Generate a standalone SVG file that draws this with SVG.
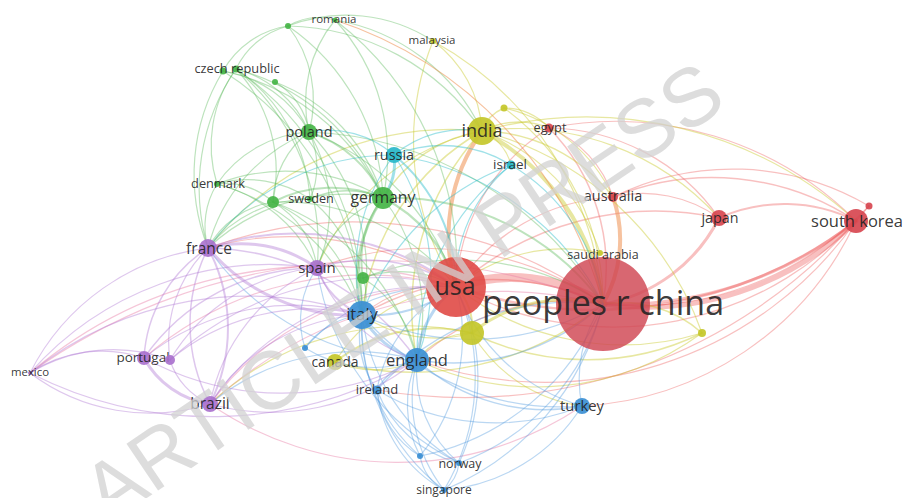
<svg xmlns="http://www.w3.org/2000/svg" width="907" height="498" viewBox="0 0 907 498">
<style>
.r{stroke:#ec5a5a;stroke-opacity:.38}
.o{stroke:#ef9050;stroke-opacity:.55}
.y{stroke:#c9c92e;stroke-opacity:.45}
.g{stroke:#5ab85a;stroke-opacity:.4}
.b{stroke:#4a96dc;stroke-opacity:.38}
.p{stroke:#b07ad4;stroke-opacity:.42}
.c{stroke:#2cbccc;stroke-opacity:.45}
.k{stroke:#e880a8;stroke-opacity:.45}
.nr{fill:#d6434d;fill-opacity:.9}
.ny{fill:#c4c72a;fill-opacity:.92}
.ng{fill:#45b446;fill-opacity:.92}
.nb{fill:#3b8fd4;fill-opacity:.92}
.np{fill:#a86fcd;fill-opacity:.9}
.nc{fill:#27b7c9;fill-opacity:.92}
text.l{font-family:"Open Sans","Liberation Sans",sans-serif;fill:#222;fill-opacity:.9;text-anchor:middle}
.wm{font-family:"Liberation Sans","Open Sans",sans-serif;fill:#d2d2d2;fill-opacity:.75;text-anchor:middle}
</style>
<rect width="907" height="498" fill="#fff"/>
<g id="connectors" fill="none" stroke-width="1.2" stroke-linecap="round">
<path class="r" stroke-width="9" d="M456 287A170 170 0 0 1 603 304"/>
<path class="r" stroke-width="5" d="M603 304A300 300 0 0 0 856 221"/>
<path class="r" stroke-width="3" d="M603 304A380 380 0 0 0 856 221"/>
<path class="r" stroke-width="3" d="M603 304A160 160 0 0 0 719 218"/>
<path class="r" stroke-width="2.5" d="M456 287A430 430 0 0 0 856 221"/>
<path class="r" stroke-width="1.5" d="M456 287A300 300 0 0 1 719 218"/>
<path class="o" stroke-width="4" d="M613 197A130 130 0 0 1 603 304"/>
<path class="r" stroke-width="1.5" d="M613 197A260 260 0 0 1 856 221"/>
<path class="r" d="M613 197A130 130 0 0 1 719 218"/>
<path class="r" stroke-width="1.5" d="M549 128A200 200 0 0 1 603 304"/>
<path class="r" d="M549 128A340 340 0 0 1 856 221"/>
<path class="r" d="M549 128A210 210 0 0 1 719 218"/>
<path class="r" d="M549 128A110 110 0 0 1 613 197"/>
<path class="r" d="M456 287A200 200 0 0 1 549 128"/>
<path class="r" stroke-width="2" d="M719 218A160 160 0 0 1 856 221"/>
<path class="r" d="M603 304A320 320 0 0 0 869 206"/>
<path class="r" d="M613 197A270 270 0 0 1 869 206"/>
<path class="r" d="M456 287A200 200 0 0 1 613 197"/>
<path class="r" d="M417 360A220 220 0 0 1 603 304"/>
<path class="r" stroke-width="1.5" d="M362 315A260 260 0 0 1 603 304"/>
<path class="r" d="M317 268A310 310 0 0 1 603 304"/>
<path class="r" d="M208 248A420 420 0 0 1 603 304"/>
<path class="k" d="M210 404A430 430 0 0 1 603 304"/>
<path class="k" stroke-width="1.4" d="M30 373A450 450 0 0 1 456 287"/>
<path class="k" d="M30 373A600 600 0 0 1 603 304"/>
<path class="r" d="M362 315A120 120 0 0 1 456 287"/>
<path class="r" d="M208 248A300 300 0 0 1 456 287"/>
<path class="k" d="M210 404A290 290 0 0 1 456 287"/>
<path class="k" d="M144 358A340 340 0 0 1 456 287"/>
<path class="r" d="M417 360A380 380 0 0 0 856 221"/>
<path class="r" d="M377 390A520 520 0 0 0 856 221"/>
<path class="r" d="M582 406A320 320 0 0 0 856 221"/>
<path class="r" d="M456 287A330 330 0 0 0 869 206"/>
<path class="k" d="M210 404A330 330 0 0 0 582 406"/>
<path class="o" stroke-width="4" d="M456 287A180 180 0 0 1 482 131"/>
<path class="y" stroke-width="4" d="M482 131A230 230 0 0 1 603 304"/>
<path class="y" stroke-width="3" d="M472 333A150 150 0 0 1 603 304"/>
<path class="y" stroke-width="2" d="M456 287A60 60 0 0 1 472 333"/>
<path class="y" stroke-width="1.5" d="M603 304A120 120 0 0 1 702 333"/>
<path class="y" d="M456 287A270 270 0 0 0 702 333"/>
<path class="y" d="M482 131A320 320 0 0 1 702 333"/>
<path class="y" stroke-width="1.4" d="M472 333A260 260 0 0 0 702 333"/>
<path class="y" d="M417 360A280 280 0 0 0 702 333"/>
<path class="y" d="M335 362A160 160 0 0 1 456 287"/>
<path class="y" stroke-width="1.4" d="M335 362A300 300 0 0 0 603 304"/>
<path class="y" d="M335 362A100 100 0 0 0 417 360"/>
<path class="y" stroke-width="2" d="M335 362A160 160 0 0 1 472 333"/>
<path class="y" d="M456 287A170 170 0 0 1 600 253"/>
<path class="y" d="M482 131A190 190 0 0 1 600 253"/>
<path class="y" d="M433 41A120 120 0 0 1 482 131"/>
<path class="y" d="M433 41A330 330 0 0 1 603 304"/>
<path class="y" d="M433 41A270 270 0 0 0 456 287"/>
<path class="y" stroke-width="1.5" d="M504 108A40 40 0 0 0 482 131"/>
<path class="y" d="M504 108A60 60 0 0 1 549 128"/>
<path class="y" d="M504 108A240 240 0 0 1 603 304"/>
<path class="y" d="M504 108A160 160 0 0 1 613 197"/>
<path class="y" stroke-width="1.5" d="M482 131A80 80 0 0 1 549 128"/>
<path class="y" stroke-width="1.5" d="M482 131A170 170 0 0 1 613 197"/>
<path class="y" d="M482 131A400 400 0 0 1 856 221"/>
<path class="y" d="M482 131A270 270 0 0 1 719 218"/>
<path class="y" stroke-width="1.5" d="M383 198A140 140 0 0 1 482 131"/>
<path class="y" stroke-width="1.5" d="M362 315A240 240 0 0 1 482 131"/>
<path class="y" stroke-width="1.5" d="M417 360A260 260 0 0 1 482 131"/>
<path class="y" d="M482 131A50 50 0 0 1 511 165"/>
<path class="y" d="M317 268A230 230 0 0 1 482 131"/>
<path class="y" d="M208 248A310 310 0 0 1 482 131"/>
<path class="y" d="M362 315A130 130 0 0 0 472 333"/>
<path class="y" d="M417 360A70 70 0 0 1 472 333"/>
<path class="y" d="M472 333A150 150 0 0 0 582 406"/>
<path class="y" d="M210 404A290 290 0 0 1 472 333"/>
<path class="g" stroke-width="3" d="M383 198A140 140 0 0 0 362 315"/>
<path class="g" stroke-width="2" d="M383 198A100 100 0 0 0 363 278"/>
<path class="g" stroke-width="2.5" d="M383 198A140 140 0 0 1 456 287"/>
<path class="g" stroke-width="2" d="M383 198A260 260 0 0 1 603 304"/>
<path class="g" d="M383 198A190 190 0 0 1 417 360"/>
<path class="g" d="M383 198A110 110 0 0 0 317 268"/>
<path class="g" d="M383 198A200 200 0 0 0 208 248"/>
<path class="g" stroke-width="2" d="M309 132A120 120 0 0 1 383 198"/>
<path class="g" stroke-width="1.5" d="M310 199A90 90 0 0 1 383 198"/>
<path class="g" stroke-width="2" d="M273 202A130 130 0 0 1 383 198"/>
<path class="g" d="M217 184A190 190 0 0 1 383 198"/>
<path class="g" d="M236 69A220 220 0 0 1 383 198"/>
<path class="g" d="M223 71A230 230 0 0 1 383 198"/>
<path class="g" d="M335 20A200 200 0 0 1 383 198"/>
<path class="g" d="M288 26A220 220 0 0 1 383 198"/>
<path class="g" d="M275 82A180 180 0 0 1 383 198"/>
<path class="g" d="M236 69A110 110 0 0 1 309 132"/>
<path class="g" d="M223 71A120 120 0 0 1 309 132"/>
<path class="g" d="M275 82A70 70 0 0 1 309 132"/>
<path class="g" d="M288 26A120 120 0 0 1 309 132"/>
<path class="g" d="M335 20A130 130 0 0 0 309 132"/>
<path class="g" d="M309 132A80 80 0 0 1 310 199"/>
<path class="g" d="M309 132A90 90 0 0 0 273 202"/>
<path class="g" d="M309 132A120 120 0 0 0 217 184"/>
<path class="g" d="M309 132A170 170 0 0 0 208 248"/>
<path class="g" d="M309 132A200 200 0 0 1 362 315"/>
<path class="g" d="M309 132A150 150 0 0 1 317 268"/>
<path class="g" d="M309 132A240 240 0 0 1 456 287"/>
<path class="g" d="M309 132A360 360 0 0 1 603 304"/>
<path class="g" d="M236 69A80 80 0 0 1 288 26"/>
<path class="g" d="M223 71A90 90 0 0 1 288 26"/>
<path class="g" d="M288 26A60 60 0 0 1 335 20"/>
<path class="g" d="M288 26A160 160 0 0 1 433 41"/>
<path class="g" d="M288 26A240 240 0 0 1 482 131"/>
<path class="g" d="M335 20A200 200 0 0 1 482 131"/>
<path class="g" d="M335 20A310 310 0 0 1 456 287"/>
<path class="o" stroke-opacity=".35" d="M335 20A410 410 0 0 1 603 304"/>
<path class="g" d="M223 71A200 200 0 0 0 208 248"/>
<path class="g" d="M236 69A210 210 0 0 0 208 248"/>
<path class="g" d="M236 69A130 130 0 0 0 217 184"/>
<path class="g" d="M236 69A150 150 0 0 1 273 202"/>
<path class="g" d="M236 69A170 170 0 0 1 310 199"/>
<path class="g" d="M236 69A290 290 0 0 1 362 315"/>
<path class="g" d="M236 69A230 230 0 0 1 317 268"/>
<path class="g" d="M223 71A300 300 0 0 1 362 315"/>
<path class="g" d="M217 184A70 70 0 0 1 273 202"/>
<path class="g" d="M217 184A80 80 0 0 0 208 248"/>
<path class="g" d="M217 184A110 110 0 0 1 310 199"/>
<path class="g" d="M217 184A150 150 0 0 1 317 268"/>
<path class="g" d="M217 184A220 220 0 0 1 362 315"/>
<path class="g" d="M273 202A90 90 0 0 0 208 248"/>
<path class="g" d="M273 202A90 90 0 0 1 317 268"/>
<path class="g" d="M273 202A160 160 0 0 1 362 315"/>
<path class="g" d="M273 202A230 230 0 0 1 417 360"/>
<path class="g" d="M273 202A220 220 0 0 1 456 287"/>
<path class="g" d="M310 199A130 130 0 0 0 208 248"/>
<path class="g" d="M310 199A140 140 0 0 1 362 315"/>
<path class="g" d="M363 278A110 110 0 0 1 456 287"/>
<path class="g" d="M363 278A50 50 0 0 1 362 315"/>
<path class="g" d="M363 278A260 260 0 0 1 603 304"/>
<path class="g" d="M363 278A120 120 0 0 1 417 360"/>
<path class="c" stroke-width="3" d="M394 155A60 60 0 0 1 383 198"/>
<path class="c" stroke-width="2" d="M394 155A170 170 0 0 1 456 287"/>
<path class="c" d="M394 155A280 280 0 0 1 603 304"/>
<path class="c" d="M394 155A110 110 0 0 1 482 131"/>
<path class="c" d="M394 155A190 190 0 0 0 362 315"/>
<path class="c" d="M394 155A230 230 0 0 1 417 360"/>
<path class="c" d="M309 132A100 100 0 0 1 394 155"/>
<path class="c" stroke-width="1.4" d="M394 155A130 130 0 0 1 511 165"/>
<path class="c" d="M456 287A150 150 0 0 1 511 165"/>
<path class="c" d="M511 165A190 190 0 0 1 603 304"/>
<path class="c" d="M417 360A240 240 0 0 1 511 165"/>
<path class="c" d="M362 315A250 250 0 0 1 511 165"/>
<path class="c" stroke-opacity=".3" d="M208 248A230 230 0 0 1 394 155"/>
<path class="b" stroke-width="3" d="M362 315A90 90 0 0 0 417 360"/>
<path class="b" stroke-width="3" d="M417 360A100 100 0 0 1 456 287"/>
<path class="b" stroke-width="2" d="M362 315A140 140 0 0 0 456 287"/>
<path class="b" stroke-width="1.5" d="M417 360A220 220 0 0 0 603 304"/>
<path class="b" d="M362 315A260 260 0 0 0 603 304"/>
<path class="b" stroke-width="1.5" d="M417 360A190 190 0 0 0 582 406"/>
<path class="b" d="M362 315A260 260 0 0 0 582 406"/>
<path class="b" d="M456 287A190 190 0 0 0 582 406"/>
<path class="b" d="M377 390A230 230 0 0 0 582 406"/>
<path class="b" d="M582 406A130 130 0 0 1 603 304"/>
<path class="b" stroke-width="1.4" d="M377 390A60 60 0 0 1 417 360"/>
<path class="b" stroke-width="1.4" d="M362 315A90 90 0 0 0 377 390"/>
<path class="b" d="M377 390A140 140 0 0 1 456 287"/>
<path class="b" d="M377 390A260 260 0 0 1 603 304"/>
<path class="b" d="M420 456A90 90 0 0 1 377 390"/>
<path class="b" d="M420 456A110 110 0 0 1 417 360"/>
<path class="b" d="M420 456A190 190 0 0 0 456 287"/>
<path class="b" d="M420 456A170 170 0 0 1 362 315"/>
<path class="b" d="M420 456A250 250 0 0 0 603 304"/>
<path class="b" d="M459 463A120 120 0 0 1 417 360"/>
<path class="b" d="M459 463A200 200 0 0 1 362 315"/>
<path class="b" d="M459 463A200 200 0 0 0 456 287"/>
<path class="b" d="M459 463A230 230 0 0 0 603 304"/>
<path class="b" d="M459 463A120 120 0 0 1 377 390"/>
<path class="b" d="M459 463A260 260 0 0 1 317 268"/>
<path class="b" d="M444 490A150 150 0 0 1 417 360"/>
<path class="b" d="M444 490A130 130 0 0 1 377 390"/>
<path class="b" d="M444 490A220 220 0 0 0 456 287"/>
<path class="b" d="M444 490A270 270 0 0 0 603 304"/>
<path class="b" d="M444 490A50 50 0 0 1 420 456"/>
<path class="b" d="M444 490A40 40 0 0 0 459 463"/>
<path class="b" d="M444 490A210 210 0 0 1 362 315"/>
<path class="b" d="M444 490A180 180 0 0 0 582 406"/>
<path class="b" d="M305 348A80 80 0 0 1 362 315"/>
<path class="b" d="M305 348A90 90 0 0 1 317 268"/>
<path class="b" d="M305 348A130 130 0 0 0 417 360"/>
<path class="b" d="M305 348A180 180 0 0 1 456 287"/>
<path class="b" d="M208 248A260 260 0 0 0 417 360"/>
<path class="b" d="M210 404A230 230 0 0 1 417 360"/>
<path class="p" stroke-width="3" d="M208 248A130 130 0 0 1 317 268"/>
<path class="p" stroke-width="3" d="M208 248A190 190 0 0 0 362 315"/>
<path class="p" stroke-width="2" d="M208 248A270 270 0 0 1 456 287"/>
<path class="p" stroke-width="1.5" d="M208 248A260 260 0 0 1 417 360"/>
<path class="p" stroke-width="1.5" d="M144 358A140 140 0 0 1 208 248"/>
<path class="p" stroke-width="2" d="M208 248A170 170 0 0 1 210 404"/>
<path class="p" stroke-width="1.5" d="M210 404A170 170 0 0 1 208 248"/>
<path class="p" d="M170 360A130 130 0 0 1 208 248"/>
<path class="p" stroke-width="1.5" d="M144 358A210 210 0 0 1 317 268"/>
<path class="p" d="M210 404A190 190 0 0 1 317 268"/>
<path class="p" stroke-width="3" d="M144 358A90 90 0 0 0 210 404"/>
<path class="p" d="M144 358A240 240 0 0 1 362 315"/>
<path class="p" d="M144 358A290 290 0 0 0 417 360"/>
<path class="p" d="M170 360A190 190 0 0 1 317 268"/>
<path class="p" d="M170 360A220 220 0 0 1 362 315"/>
<path class="p" d="M170 360A70 70 0 0 0 210 404"/>
<path class="p" d="M170 360A310 310 0 0 1 456 287"/>
<path class="p" d="M210 404A190 190 0 0 1 362 315"/>
<path class="p" d="M210 404A230 230 0 0 0 417 360"/>
<path class="p" d="M210 404A270 270 0 0 1 456 287"/>
<path class="p" stroke-width="2" d="M317 268A80 80 0 0 0 362 315"/>
<path class="p" stroke-width="1.5" d="M317 268A160 160 0 0 1 456 287"/>
<path class="p" d="M317 268A160 160 0 0 0 417 360"/>
<path class="p" d="M30 373A130 130 0 0 1 144 358"/>
<path class="p" d="M30 373A160 160 0 0 1 170 360"/>
<path class="p" d="M30 373A200 200 0 0 0 210 404"/>
<path class="p" d="M30 373A230 230 0 0 1 208 248"/>
<path class="p" d="M30 373A320 320 0 0 1 317 268"/>
<path class="p" d="M30 373A350 350 0 0 1 362 315"/>
<path class="p" d="M30 373A400 400 0 0 0 417 360"/>
</g>
<g id="n-china"><circle class="nr" cx="603" cy="304" r="47" style="fill:#d04652;fill-opacity:.82"/></g>
<g id="n-usa"><circle class="nr" cx="456" cy="287" r="30" style="fill:#e04a46"/><text class="l" x="455" y="295" font-size="25">usa</text></g>
<g id="n-yellow1"><circle class="ny" cx="472" cy="333" r="12"/></g>
<g id="n-china-label"><text class="l" x="603" y="315" font-size="34">peoples r china</text></g>
<g id="n-india"><circle class="ny" cx="482" cy="131" r="14"/><text class="l" x="482" y="137" font-size="18">india</text></g>
<g id="n-italy"><circle class="nb" cx="362" cy="315" r="14"/><text class="l" x="362" y="320" font-size="16.5">italy</text></g>
<g id="n-england"><circle class="nb" cx="417" cy="360" r="12"/><text class="l" x="417" y="366" font-size="16.5">england</text></g>
<g id="n-south-korea"><circle class="nr" cx="856" cy="221" r="12"/><text class="l" x="857" y="227" font-size="16.5">south korea</text></g>
<g id="n-germany"><circle class="ng" cx="383" cy="198" r="11"/><text class="l" x="383" y="203" font-size="15.8">germany</text></g>
<g id="n-france"><circle class="np" cx="208" cy="248" r="9"/><text class="l" x="209" y="254" font-size="15.5">france</text></g>
<g id="n-spain"><circle class="np" cx="317" cy="268" r="8"/><text class="l" x="317" y="273" font-size="15">spain</text></g>
<g id="n-poland"><circle class="ng" cx="309" cy="132" r="8"/><text class="l" x="309" y="137" font-size="14.5">poland</text></g>
<g id="n-russia"><circle class="nc" cx="394" cy="155" r="8"/><text class="l" x="394" y="160" font-size="14.4">russia</text></g>
<g id="n-japan"><circle class="nr" cx="719" cy="218" r="8"/><text class="l" x="720" y="223" font-size="14.3">japan</text></g>
<g id="n-turkey"><circle class="nb" cx="582" cy="406" r="8"/><text class="l" x="582" y="411" font-size="14.8">turkey</text></g>
<g id="n-brazil"><circle class="np" cx="210" cy="404" r="8"/><text class="l" x="210" y="409" font-size="15.5">brazil</text></g>
<g id="n-canada"><circle class="ny" cx="335" cy="362" r="8"/><text class="l" x="335" y="367" font-size="14">canada</text></g>
<g id="n-portugal"><circle class="np" cx="144" cy="358" r="7"/><text class="l" x="143" y="362" font-size="13.5">portugal</text></g>
<g id="n-purple2"><circle class="np" cx="170" cy="360" r="5"/></g>
<g id="n-green1"><circle class="ng" cx="363" cy="278" r="6"/></g>
<g id="n-green5"><circle class="ng" cx="273" cy="202" r="6"/></g>
<g id="n-australia"><circle class="nr" cx="613" cy="197" r="5"/><text class="l" x="613" y="201" font-size="14.5">australia</text></g>
<g id="n-egypt"><circle class="nr" cx="549" cy="128" r="4.5"/><text class="l" x="550" y="132" font-size="12.8">egypt</text></g>
<g id="n-israel"><circle class="nc" cx="511" cy="165" r="4.5"/><text class="l" x="510" y="169" font-size="13.5">israel</text></g>
<g id="n-ireland"><circle class="nb" cx="377" cy="390" r="4.5"/><text class="l" x="377" y="394" font-size="13">ireland</text></g>
<g id="n-yellow2"><circle class="ny" cx="702" cy="333" r="4"/></g>
<g id="n-norway"><circle class="nb" cx="459" cy="463" r="3"/><text class="l" x="460" y="468" font-size="12.5">norway</text></g>
<g id="n-singapore"><circle class="nb" cx="444" cy="490" r="3"/><text class="l" x="444" y="494" font-size="12">singapore</text></g>
<g id="n-blue2"><circle class="nb" cx="420" cy="456" r="3"/></g>
<g id="n-blue1"><circle class="nb" cx="305" cy="348" r="3"/></g>
<g id="n-saudi-arabia"><circle class="ny" cx="600" cy="253" r="3"/><text class="l" x="603" y="259" font-size="12.5">saudi arabia</text></g>
<g id="n-red1"><circle class="nr" cx="869" cy="206" r="3.5"/></g>
<g id="n-yellow3"><circle class="ny" cx="504" cy="108" r="3.5"/></g>
<g id="n-malaysia"><circle class="ny" cx="433" cy="41" r="3"/><text class="l" x="432" y="44" font-size="11.5">malaysia</text></g>
<g id="n-romania"><circle class="ng" cx="335" cy="20" r="2.5"/><text class="l" x="334" y="23" font-size="11.5">romania</text></g>
<g id="n-green2"><circle class="ng" cx="288" cy="26" r="3"/></g>
<g id="n-green3"><circle class="ng" cx="223" cy="71" r="3.5"/></g>
<g id="n-green4"><circle class="ng" cx="275" cy="82" r="3"/></g>
<g id="n-czech-republic"><circle class="ng" cx="236" cy="69" r="3.5"/><text class="l" x="237" y="73" font-size="12.8">czech republic</text></g>
<g id="n-denmark"><circle class="ng" cx="217" cy="184" r="3"/><text class="l" x="218" y="188" font-size="12.8">denmark</text></g>
<g id="n-sweden"><circle class="ng" cx="310" cy="199" r="3"/><text class="l" x="311" y="203" font-size="12.7">sweden</text></g>
<g id="n-mexico"><circle class="np" cx="30" cy="373" r="2"/><text class="l" x="30" y="376" font-size="11.4">mexico</text></g>
<text class="wm" transform="translate(402 291) rotate(-34)" x="0" y="29" font-size="82">ARTICLE IN PRESS</text>
</svg>
